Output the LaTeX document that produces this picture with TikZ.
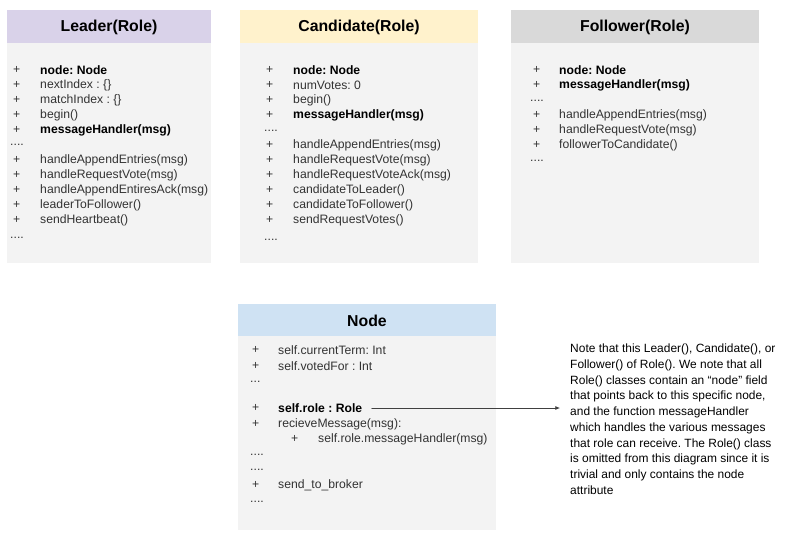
\documentclass[tikz,border=0pt]{standalone}
\usepackage{fontspec}
\setmainfont{Liberation Sans}
\usetikzlibrary{arrows.meta,positioning}
\frenchspacing
\definecolor{leaderhead}{HTML}{D9D2E9}
\definecolor{candhead}{HTML}{FFF2CC}
\definecolor{followhead}{HTML}{D9D9D9}
\definecolor{nodehead}{HTML}{CFE2F3}
\definecolor{bodygray}{HTML}{F3F3F3}
\definecolor{txtgray}{HTML}{333333}
\tikzset{
  mem/.style={anchor=west,inner sep=0pt,text=txtgray,font=\fontsize{10.4}{12}\selectfont},
  title/.style={inner sep=0pt,font=\fontsize{13.5}{15}\selectfont\bfseries,text=black},
  note/.style={anchor=north west,inner sep=0pt,align=left,text=black,font=\fontsize{10.2}{13.4}\selectfont}
}
% plus sign and member text at given x positions
\newcommand{\member}[5]{%
  \node[mem] (#1p) at (#2,#4) {+};
  \node[mem] (#1) at (#3,#4) {#5};}
\newcommand{\gap}[3]{\node[mem] (#1) at (#2,#3) {....};}
\begin{document}
\begin{tikzpicture}[x=0.03cm,y=-0.03cm,line cap=round,line join=round]
  \useasboundingbox (0,0) rectangle (799,546);
  % boxes
  \fill[bodygray] (7,43) rectangle (211,263);
  \fill[leaderhead] (7,10) rectangle (211,43);
  \fill[bodygray] (240,43) rectangle (478,263);
  \fill[candhead] (240,10) rectangle (478,43);
  \fill[bodygray] (511,43) rectangle (759,263);
  \fill[followhead] (511,10) rectangle (759,43);
  \fill[bodygray] (238,336) rectangle (496,530);
  \fill[nodehead] (238,304) rectangle (496,336);
  \node[title] (leader) at (109,27) {Leader(Role)};
  \node[title] (cand) at (359,27) {Candidate(Role)};
  \node[title] (follow) at (635,27) {Follower(Role)};
  \node[title] (node) at (367,321) {Node};
  % Leader
  \member{l1}{13}{40}{70}{\bfseries\color{black}node: Node}
  \member{l2}{13}{40}{85}{nextIndex : \{\}}
  \member{l3}{13}{40}{100}{matchIndex : \{\}}
  \member{l4}{13}{40}{115}{begin()}
  \member{l5}{13}{40}{130}{\bfseries\color{black}messageHandler(msg)}
  \gap{l6}{10}{145}
  \member{l7}{13}{40}{160}{handleAppendEntries(msg)}
  \member{l8}{13}{40}{175}{handleRequestVote(msg)}
  \member{l9}{13}{40}{190}{handleAppendEntiresAck(msg)}
  \member{l10}{13}{40}{205}{leaderToFollower()}
  \member{l11}{13}{40}{220}{sendHeartbeat()}
  \gap{l12}{10}{238}
  % Candidate
  \member{c1}{266}{293}{70}{\bfseries\color{black}node: Node}
  \member{c2}{266}{293}{85}{numVotes: 0}
  \member{c3}{266}{293}{100}{begin()}
  \member{c4}{266}{293}{115}{\bfseries\color{black}messageHandler(msg)}
  \gap{c5}{264}{131}
  \member{c6}{266}{293}{145}{handleAppendEntries(msg)}
  \member{c7}{266}{293}{160}{handleRequestVote(msg)}
  \member{c8}{266}{293}{175}{handleRequestVoteAck(msg)}
  \member{c9}{266}{293}{190}{candidateToLeader()}
  \member{c10}{266}{293}{205}{candidateToFollower()}
  \member{c11}{266}{293}{220}{sendRequestVotes()}
  \gap{c12}{264}{240}
  % Follower
  \member{f1}{533}{559}{70}{\bfseries\color{black}node: Node}
  \member{f2}{533}{559}{85}{\bfseries\color{black}messageHandler(msg)}
  \gap{f3}{530}{101}
  \member{f4}{533}{559}{115}{handleAppendEntries(msg)}
  \member{f5}{533}{559}{130}{handleRequestVote(msg)}
  \member{f6}{533}{559}{145}{followerToCandidate()}
  \gap{f7}{530}{161}
  % Node
  \member{n1}{252}{278}{350}{self.currentTerm: Int}
  \member{n2}{252}{278}{366}{self.votedFor : Int}
  \node[mem] (n3) at (250,382) {...};
  \member{n4}{252}{278}{408}{\bfseries\color{black}self.role : Role}
  \member{n5}{252}{278}{424}{recieveMessage(msg):}
  \member{n6}{291}{318}{439}{self.role.messageHandler(msg)}
  \gap{n7}{250}{455}
  \gap{n8}{250}{470}
  \member{n9}{252}{278}{485}{send\_to\_broker}
  \gap{n10}{250}{502}
  % note
  \node[note] (txt) at (570,344) {Note that this Leader(), Candidate(), or\\
    Follower() of Role(). We note that all\\
    Role() classes contain an “node” field\\
    that points back to this specific node,\\
    and the function messageHandler\\
    which handles the various messages\\
    that role can receive. The Role() class\\
    is omitted from this diagram since it is\\
    trivial and only contains the node\\
    attribute};
  \coordinate (tip) at (560,408);
  \draw[-{Latex[length=4pt,width=3.5pt]},line width=0.6pt,black!75] ([xshift=8pt]n4.east) -- (tip);
\end{tikzpicture}
\end{document}
